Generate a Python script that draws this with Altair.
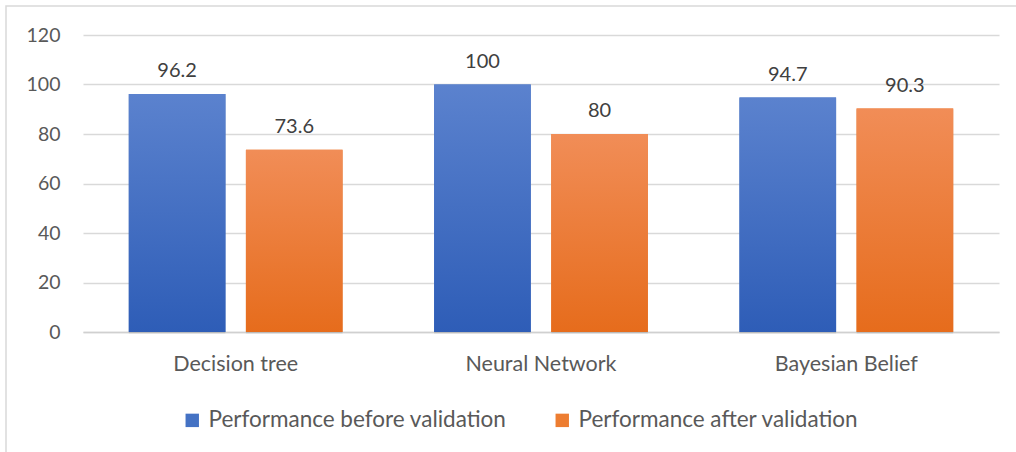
import altair as alt
import pandas as pd

# Model accuracy before and after validation
models = ["Decision tree", "Neural Network", "Bayesian Belief"]
before = [96.2, 100, 94.7]
after = [73.6, 80, 90.3]
series = ["Performance before validation", "Performance after validation"]

rows = []
for m, b, a in zip(models, before, after):
    rows.append({"model": m, "series": series[0], "value": b})
    rows.append({"model": m, "series": series[1], "value": a})
df = pd.DataFrame(rows)

FONT = "Lato"
TEXT = "#595959"
GRID = "#D9D9D9"

blue_grad = alt.Gradient(
    gradient="linear",
    stops=[alt.GradientStop(color="#5B82CE", offset=0),
           alt.GradientStop(color="#2E5DB7", offset=1)],
    x1=0, x2=0, y1=0, y2=1,
)
orange_grad = alt.Gradient(
    gradient="linear",
    stops=[alt.GradientStop(color="#F18D57", offset=0),
           alt.GradientStop(color="#E66C1C", offset=1)],
    x1=0, x2=0, y1=0, y2=1,
)

x_enc = alt.X(
    "model:N", sort=models, title=None,
    scale=alt.Scale(paddingInner=0.3, paddingOuter=0.15),
    axis=alt.Axis(labelAngle=0, labelFontSize=21.5, labelColor=TEXT, labelFont=FONT,
                  labelPadding=21, ticks=False, domainColor="#D0D0D0", domainWidth=1.5),
)
xoff = alt.XOffset("series:N", sort=series, scale=alt.Scale(paddingInner=0.175))
y_enc = alt.Y(
    "value:Q", title=None,
    scale=alt.Scale(domain=[0, 120]),
    axis=alt.Axis(values=[0, 20, 40, 60, 80, 100, 120], labelFontSize=19.5, labelColor=TEXT,
                  labelFont=FONT, labelPadding=23, ticks=False, domain=False,
                  gridColor=GRID, gridWidth=1.5),
)

base = alt.Chart(df)

# soft drop shadow under each bar
shadow = base.mark_bar(color="#000000", opacity=0.10, xOffset=2, yOffset=1.5).encode(
    x=x_enc, xOffset=xoff, y=y_enc,
)

# solid bars carry the legend
legend_bars = base.mark_bar().encode(
    x=x_enc, xOffset=xoff, y=y_enc,
    color=alt.Color(
        "series:N", sort=series, title=None,
        scale=alt.Scale(domain=series, range=["#4472C4", "#ED7D31"]),
        legend=alt.Legend(
            orient="none", direction="horizontal", legendX=98, legendY=374,
            symbolType="square", symbolSize=180, symbolStrokeWidth=0,
            labelFontSize=22.5, labelColor=TEXT, labelFont=FONT,
            labelOffset=5, columnPadding=44, labelLimit=500,
        ),
    ),
)

# gradient-filled bars drawn on top
grad_bars = base.mark_bar().encode(
    x=x_enc, xOffset=xoff, y=y_enc,
    fill=alt.condition(f"datum.series == '{series[0]}'", alt.value(blue_grad), alt.value(orange_grad)),
)

labels = base.mark_text(baseline="alphabetic", dy=-17, fontSize=20, font=FONT, color="#404040").encode(
    x=x_enc, xOffset=xoff, y=y_enc, text=alt.Text("value:Q"),
)

frame = alt.Chart(alt.Data(values=[{}])).mark_rect(fill=None, stroke=GRID, strokeWidth=1.5).encode(
    x=alt.value(-77), x2=alt.value(940), y=alt.value(-29), y2=alt.value(420),
)

chart = alt.layer(frame, shadow, legend_bars, grad_bars, labels).properties(
    width=916, height=297,
    autosize=alt.AutoSizeParams(type="none"),
    padding={"left": 83, "top": 35, "right": 17, "bottom": 120},
    background="white",
).configure_view(stroke=None)

chart.save("out.html", embed_options={"renderer": "svg", "actions": False})
